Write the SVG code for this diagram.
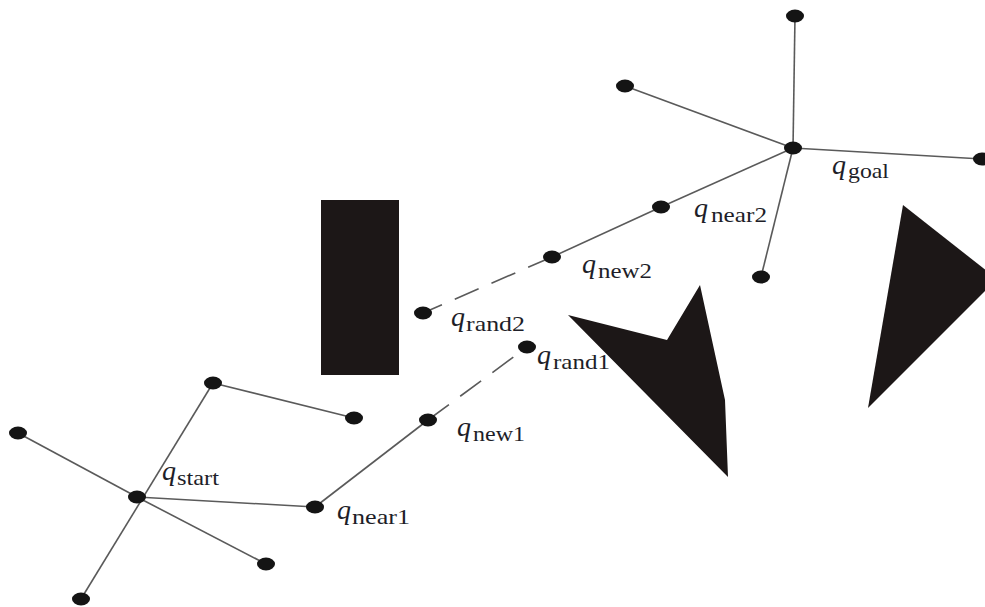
<svg xmlns="http://www.w3.org/2000/svg" width="985" height="607" viewBox="0 0 985 607">
  <style>
    .edge { stroke: #5a5a5a; stroke-width: 1.6; fill: none; }
    .dash { stroke-dasharray: 26 14; }
    .node { fill: #141414; }
    .obst { fill: #1c1717; }
    .q { font-family: "Liberation Serif", serif; font-style: italic; font-size: 28px; fill: #1e1e28; }
    .sub { font-family: "Liberation Serif", serif; font-size: 22px; fill: #1e1e28; }
  </style>
  <rect width="985" height="607" fill="#ffffff"/>

  <!-- obstacles -->
  <g id="obstacles">
    <rect class="obst" x="321" y="200" width="78" height="175"/>
    <polygon class="obst" points="568,315 667,340 700,285 725,400 728,477"/>
    <polygon class="obst" points="903,205 997,279 868,408"/>
  </g>

  <!-- connectors -->
  <g id="connectors">
    <line class="edge" x1="81" y1="599" x2="213" y2="383"/>
    <line class="edge" x1="213" y1="383" x2="354" y2="418"/>
    <line class="edge" x1="137" y1="497" x2="18" y2="433"/>
    <line class="edge" x1="137" y1="497" x2="266" y2="564"/>
    <line class="edge" x1="137" y1="497" x2="315" y2="507"/>
    <line class="edge" x1="315" y1="507" x2="428" y2="420"/>
    <line class="edge dash" x1="428" y1="420" x2="527" y2="347"/>
    <line class="edge" x1="793" y1="148" x2="795" y2="16"/>
    <line class="edge" x1="793" y1="148" x2="625" y2="86"/>
    <line class="edge" x1="793" y1="148" x2="982" y2="159"/>
    <line class="edge" x1="793" y1="148" x2="761" y2="277"/>
    <line class="edge" x1="793" y1="148" x2="661" y2="207"/>
    <line class="edge" x1="661" y1="207" x2="552" y2="257"/>
    <line class="edge dash" x1="552" y1="257" x2="423" y2="313"/>
  </g>

  <!-- start tree -->
  <g id="q-start"><ellipse class="node" cx="137" cy="497" rx="9" ry="6.5"/></g>
  <g id="s-a"><ellipse class="node" cx="213" cy="383" rx="9" ry="6.5"/></g>
  <g id="s-b"><ellipse class="node" cx="354" cy="418" rx="9" ry="6.5"/></g>
  <g id="s-c"><ellipse class="node" cx="18" cy="433" rx="9" ry="6.5"/></g>
  <g id="s-d"><ellipse class="node" cx="266" cy="564" rx="9" ry="6.5"/></g>
  <g id="s-e"><ellipse class="node" cx="81" cy="599" rx="9" ry="6.5"/></g>
  <g id="q-near1"><ellipse class="node" cx="315" cy="507" rx="9" ry="6.5"/></g>
  <g id="q-new1"><ellipse class="node" cx="428" cy="420" rx="9" ry="6.5"/></g>
  <g id="q-rand1"><ellipse class="node" cx="527" cy="347" rx="9" ry="6.5"/></g>

  <!-- goal tree -->
  <g id="q-goal"><ellipse class="node" cx="793" cy="148" rx="9" ry="6.5"/></g>
  <g id="g-a"><ellipse class="node" cx="795" cy="16" rx="9" ry="6.5"/></g>
  <g id="g-b"><ellipse class="node" cx="625" cy="86" rx="9" ry="6.5"/></g>
  <g id="g-c"><ellipse class="node" cx="982" cy="159" rx="9" ry="6.5"/></g>
  <g id="g-d"><ellipse class="node" cx="761" cy="277" rx="9" ry="6.5"/></g>
  <g id="q-near2"><ellipse class="node" cx="661" cy="207" rx="9" ry="6.5"/></g>
  <g id="q-new2"><ellipse class="node" cx="552" cy="257" rx="9" ry="6.5"/></g>
  <g id="q-rand2"><ellipse class="node" cx="423" cy="313" rx="9" ry="6.5"/></g>

  <!-- labels -->
  <g id="labels">
    <text class="q" x="162" y="480">q</text><text class="sub" x="177" y="485" textLength="42" lengthAdjust="spacingAndGlyphs">start</text>
    <text class="q" x="337" y="519">q</text><text class="sub" x="352" y="524" textLength="58" lengthAdjust="spacingAndGlyphs">near1</text>
    <text class="q" x="457" y="436">q</text><text class="sub" x="473" y="441" textLength="52" lengthAdjust="spacingAndGlyphs">new1</text>
    <text class="q" x="537" y="364">q</text><text class="sub" x="553" y="369" textLength="57" lengthAdjust="spacingAndGlyphs">rand1</text>
    <text class="q" x="451" y="326">q</text><text class="sub" x="466" y="331" textLength="59" lengthAdjust="spacingAndGlyphs">rand2</text>
    <text class="q" x="582" y="273">q</text><text class="sub" x="598" y="278" textLength="54" lengthAdjust="spacingAndGlyphs">new2</text>
    <text class="q" x="694" y="217">q</text><text class="sub" x="711" y="222" textLength="56" lengthAdjust="spacingAndGlyphs">near2</text>
    <text class="q" x="832" y="174">q</text><text class="sub" x="848" y="178" textLength="41" lengthAdjust="spacingAndGlyphs">goal</text>
  </g>
</svg>
